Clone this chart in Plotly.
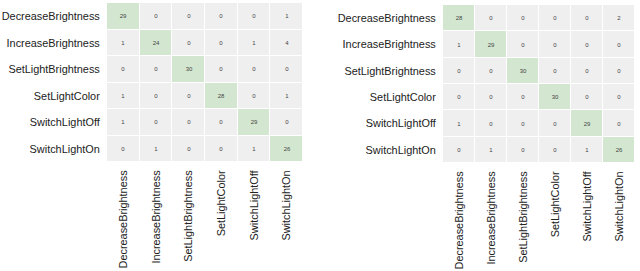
import plotly.graph_objects as go
from plotly.subplots import make_subplots

labels = ["DecreaseBrightness", "IncreaseBrightness", "SetLightBrightness",
          "SetLightColor", "SwitchLightOff", "SwitchLightOn"]

cm_left = [
    [29, 0, 0, 0, 0, 1],
    [1, 24, 0, 0, 1, 4],
    [0, 0, 30, 0, 0, 0],
    [1, 0, 0, 28, 0, 1],
    [1, 0, 0, 0, 29, 0],
    [0, 1, 0, 0, 1, 26],
]

cm_right = [
    [28, 0, 0, 0, 0, 2],
    [1, 29, 0, 0, 0, 0],
    [0, 0, 30, 0, 0, 0],
    [0, 0, 0, 30, 0, 0],
    [1, 0, 0, 0, 29, 0],
    [0, 1, 0, 0, 1, 26],
]

GRAY = "#efefef"
GREEN = "#d3e6cf"
cscale = [[0, GRAY], [0.5, GRAY], [0.5, GREEN], [1, GREEN]]

fig = make_subplots(rows=1, cols=2)

for i, cm in enumerate([cm_left, cm_right]):
    fig.add_trace(go.Heatmap(
        z=cm, x=labels, y=labels,
        colorscale=cscale, zmin=0, zmax=30, showscale=False,
        xgap=1, ygap=1,
        text=cm, texttemplate="%{text}",
        textfont=dict(size=6, color="#444444", family="Liberation Sans, Arial"),
        hoverinfo="skip",
    ), row=1, col=i + 1)

axfont = dict(size=10.9, color="#222222", family="Liberation Sans, Arial")

fig.update_layout(
    width=640, height=271,
    margin=dict(l=0, r=0, t=0, b=0),
    paper_bgcolor="white", plot_bgcolor="white",
    xaxis=dict(domain=[107/640, 303/640]),
    xaxis2=dict(domain=[443/640, 635/640]),
    yaxis=dict(domain=[1 - 162/271, 1 - 3/271]),
    yaxis2=dict(domain=[1 - 163/271, 1 - 5/271]),
)
fig.update_xaxes(tickangle=-90, tickfont=axfont, showgrid=False, zeroline=False,
                 ticks="outside", ticklen=3, tickcolor="white", showline=False,
                 automargin=False)
fig.update_yaxes(autorange="reversed", tickfont=axfont, showgrid=False, zeroline=False,
                 ticks="outside", ticklen=4, tickcolor="white", showline=False,
                 automargin=False)

fig.write_html("out.html", post_script="document.body.style.margin='0';",
               config={"displayModeBar": False})
